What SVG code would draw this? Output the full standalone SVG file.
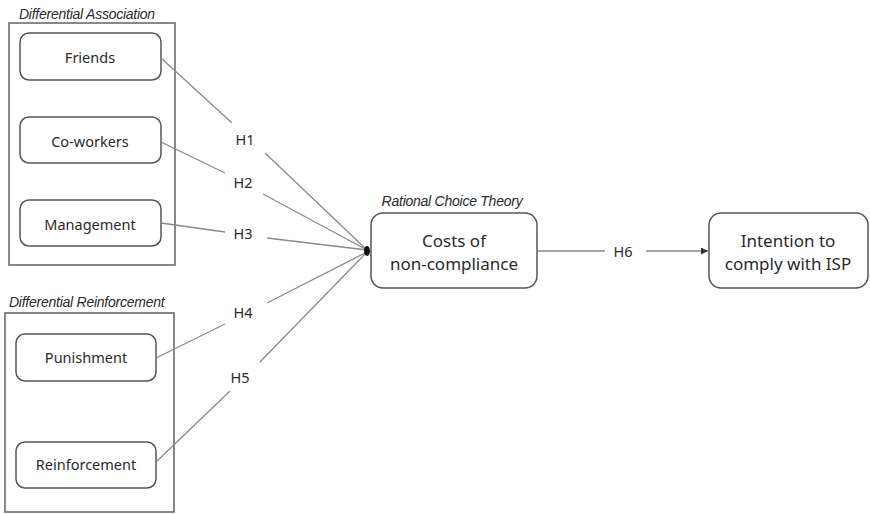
<svg xmlns="http://www.w3.org/2000/svg" width="870" height="514" viewBox="0 0 870 514">
<style>
.grp{fill:none;stroke:#6b6b6b;stroke-width:1.6}
.node{fill:#fff;stroke:#555;stroke-width:1.5}
.t{font-family:"Noto Sans","Open Sans",sans-serif;font-size:14.5px;fill:#2a2a2a;text-anchor:middle;dominant-baseline:central}
.big{font-size:17px}
.title{font-family:"Liberation Sans",Arial,sans-serif;font-style:italic;font-size:14px;letter-spacing:-0.25px;fill:#2a2a2a;dominant-baseline:central}
.ln{fill:none;stroke:#8a8a8a;stroke-width:1.3}
.lbl{font-family:"Noto Sans","Open Sans",sans-serif;font-size:14.5px;fill:#2a2a2a;text-anchor:middle;dominant-baseline:central}
</style>
<defs>
<marker id="arr" viewBox="0 0 10 10" refX="10" refY="5" markerWidth="7" markerHeight="7" markerUnits="userSpaceOnUse" orient="auto">
<path d="M0,0 L10,5 L0,10 z" fill="#333"/>
</marker>
</defs>
<rect width="870" height="514" fill="#fff"/>

<g id="differential-association">
<text class="title" x="19" y="14">Differential Association</text>
<rect class="grp" x="9" y="23" width="166" height="242"/>
</g>
<g id="differential-reinforcement">
<text class="title" x="9" y="302">Differential Reinforcement</text>
<rect class="grp" x="5" y="313" width="169" height="199"/>
</g>

<g id="friends">
<rect class="node" x="20" y="33" width="141" height="47" rx="9"/>
<text class="t" x="90" y="57">Friends</text>
</g>
<g id="coworkers">
<rect class="node" x="20" y="117" width="141" height="46" rx="9"/>
<text class="t" x="90" y="141">Co-workers</text>
</g>
<g id="management">
<rect class="node" x="20" y="200" width="141" height="46" rx="9"/>
<text class="t" x="90" y="224">Management</text>
</g>
<g id="punishment">
<rect class="node" x="16" y="334" width="140" height="47" rx="9"/>
<text class="t" x="86" y="357">Punishment</text>
</g>
<g id="reinforcement">
<rect class="node" x="16" y="442" width="140" height="46" rx="9"/>
<text class="t" x="86" y="464">Reinforcement</text>
</g>

<g id="costs">
<text class="title" x="452" y="201" text-anchor="middle">Rational Choice Theory</text>
<rect class="node" x="371" y="213" width="166" height="75" rx="12"/>
<text class="t big" x="454" y="240">Costs of</text>
<text class="t big" x="454" y="263">non-compliance</text>
</g>
<g id="intention">
<rect class="node" x="709" y="213" width="159" height="75" rx="12"/>
<text class="t big" x="788" y="240">Intention to</text>
<text class="t big" x="788" y="263">comply with ISP</text>
</g>

<g id="connectors">
<path class="ln" d="M161,58 L232,123 M265,153 L367,250"/>
<path class="ln" d="M161,142 L225,173 M263,194 L367,250"/>
<path class="ln" d="M161,223 L225,232 M267,238 L367,250"/>
<path class="ln" d="M156,358 L225,324 M267,303 L367,252"/>
<path class="ln" d="M156,462 L230,391 M260,362 L367,252"/>
<ellipse cx="367" cy="251" rx="3" ry="5" fill="#111"/>
<path class="ln" d="M537,251 L605,251"/>
<path class="ln" d="M646,251 L708,251" stroke="#555" marker-end="url(#arr)"/>
<text class="lbl" x="245" y="139">H1</text>
<text class="lbl" x="243" y="182">H2</text>
<text class="lbl" x="243" y="233">H3</text>
<text class="lbl" x="243" y="312">H4</text>
<text class="lbl" x="240" y="377">H5</text>
<text class="lbl" x="623" y="251">H6</text>
</g>
</svg>
